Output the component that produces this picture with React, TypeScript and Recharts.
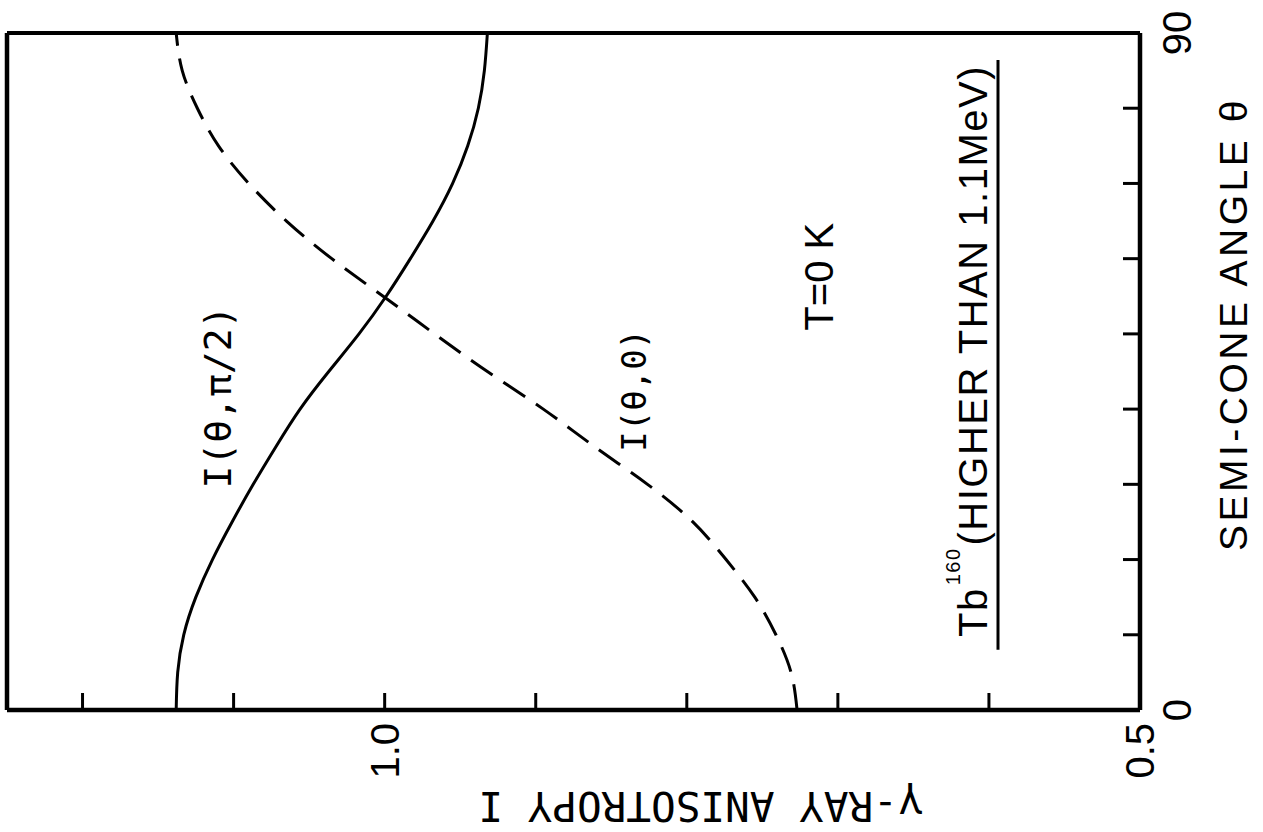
import { Line, LineChart, ReferenceDot, ReferenceLine, XAxis, YAxis } from "recharts";

// semi-cone angle theta (deg) and the two anisotropy curves
const THETA = [0, 5, 10, 15, 20, 25, 30, 35, 40, 45, 50, 55, 60, 65, 70, 75, 80, 85, 90];
const I_PERP = [
  1.138, 1.137, 1.133, 1.125, 1.114, 1.101, 1.087, 1.072, 1.056, 1.037, 1.017, 0.999, 0.983,
  0.968, 0.955, 0.945, 0.938, 0.934, 0.932,
];
const I_PAR = [
  0.727, 0.731, 0.741, 0.755, 0.774, 0.796, 0.826, 0.861, 0.895, 0.932, 0.967, 1.001, 1.035,
  1.065, 1.09, 1.11, 1.124, 1.134, 1.138,
];

const THETA_TICKS = [0, 10, 20, 30, 40, 50, 60, 70, 80, 90];
const THETA_LABELS = [0, 90];
const I_TICKS = [0.5, 0.6, 0.7, 0.8, 0.9, 1.0, 1.1, 1.2];
const I_LABELS = [0.5, 1.0];

const data = THETA.map((theta, i) => ({ theta, perp: I_PERP[i], par: I_PAR[i] }));

const SANS = "'Liberation Sans', Arial, sans-serif";
const MONO = "'DejaVu Sans Mono', monospace";

// the figure is drawn upright, then the whole thing is turned a quarter turn
const W = 832;
const H = 1263;

function ThetaTick(props: any) {
  const { x, y, payload } = props;
  if (!THETA_LABELS.includes(payload.value)) return <g />;
  return (
    <text x={x} y={y} textAnchor="middle" dominantBaseline="central" fontSize={40} fontFamily={SANS} fill="#000">
      {payload.value}
    </text>
  );
}

function ITick(props: any) {
  const { x, y, payload } = props;
  if (!I_LABELS.includes(payload.value)) return <g />;
  return (
    <text x={x} y={y} textAnchor="end" dominantBaseline="central" fontSize={40} fontFamily={SANS} fill="#000">
      {payload.value.toFixed(1)}
    </text>
  );
}

function XTitle(props: any) {
  const { x, y, width } = props.viewBox;
  return (
    <text x={x + width * 0.57} y={y + 107} textAnchor="middle" fontSize={39} letterSpacing={3.5} fontFamily={SANS} fill="#000">
      SEMI-CONE ANGLE θ
    </text>
  );
}

function YTitle(props: any) {
  const { y, height } = props.viewBox;
  const cx = 26;
  const cy = y + height * 0.612;
  return (
    <text
      x={cx}
      y={cy}
      textAnchor="middle"
      dominantBaseline="central"
      transform={`rotate(-90, ${cx}, ${cy})`}
      fontSize={41}
      fontFamily={MONO}
      fill="#000"
    >
      γ-RAY ANISOTROPY I
    </text>
  );
}

export default function App() {
  return (
    <div style={{ position: "absolute", left: 0, top: 0, width: 1263, height: 832, overflow: "hidden", background: "#fff" }}>
      <div
        style={{
          position: "absolute",
          left: 0,
          top: 0,
          width: W,
          height: H,
          transformOrigin: "top left",
          transform: `translateY(${W}px) rotate(-90deg)`,
        }}
      >
        <LineChart width={W} height={H} data={data} margin={{ top: 7, right: 33, bottom: 0, left: 0 }}>
          <XAxis
            type="number"
            dataKey="theta"
            domain={[0, 90]}
            ticks={THETA_TICKS}
            interval={0}
            height={123}
            tickSize={-17}
            tickMargin={54}
            axisLine={{ stroke: "#000", strokeWidth: 4.5 }}
            tickLine={{ stroke: "#000", strokeWidth: 3 }}
            tick={ThetaTick}
            label={XTitle}
          />
          <YAxis
            type="number"
            domain={[0.5, 1.25]}
            ticks={I_TICKS}
            interval={0}
            width={122}
            tickSize={-17}
            tickMargin={30}
            axisLine={{ stroke: "#000", strokeWidth: 4.5 }}
            tickLine={{ stroke: "#000", strokeWidth: 3 }}
            tick={ITick}
            label={YTitle}
          />
          <ReferenceLine y={1.25} stroke="#000" strokeWidth={4.5} />
          <ReferenceLine x={90} stroke="#000" strokeWidth={4} />
          <Line
            type="natural"
            dataKey="perp"
            stroke="#000"
            strokeWidth={3}
            dot={false}
            isAnimationActive={false}
          />
          <Line
            type="natural"
            dataKey="par"
            stroke="#000"
            strokeWidth={3}
            strokeDasharray="26 13"
            dot={false}
            isAnimationActive={false}
          />
          <ReferenceDot
            x={41.6}
            y={1.102}
            r={0}
            shape={(p: any) => (
              <text x={p.cx} y={p.cy} textAnchor="middle" fontSize={38} fontFamily={MONO} fill="#000">
                I(θ,π/2)
              </text>
            )}
          />
          <ReferenceDot
            x={42.5}
            y={0.827}
            r={0}
            shape={(p: any) => (
              <text x={p.cx} y={p.cy} textAnchor="middle" fontSize={34} fontFamily={MONO} fill="#000">
                I(θ,0)
              </text>
            )}
          />
          <ReferenceDot
            x={57.6}
            y={0.703}
            r={0}
            shape={(p: any) => (
              <text x={p.cx} y={p.cy} textAnchor="middle" fontSize={40} fontFamily={SANS} fill="#000">
                T=0 K
              </text>
            )}
          />
          <ReferenceDot
            x={9.7}
            y={0.601}
            r={0}
            shape={(p: any) => (
              <text x={p.cx} y={p.cy} fontSize={40} letterSpacing={1.5} fontFamily={SANS} fill="#000">
                <tspan>Tb</tspan>
                <tspan fontSize={20} dy={-27} dx={2}>
                  160
                </tspan>
                <tspan dy={27} dx={2}>
                  (HIGHER THAN 1.1MeV)
                </tspan>
              </text>
            )}
          />
          <ReferenceLine
            segment={[
              { x: 8, y: 0.594 },
              { x: 86.4, y: 0.594 },
            ]}
            stroke="#000"
            strokeWidth={3}
          />
        </LineChart>
      </div>
    </div>
  );
}
